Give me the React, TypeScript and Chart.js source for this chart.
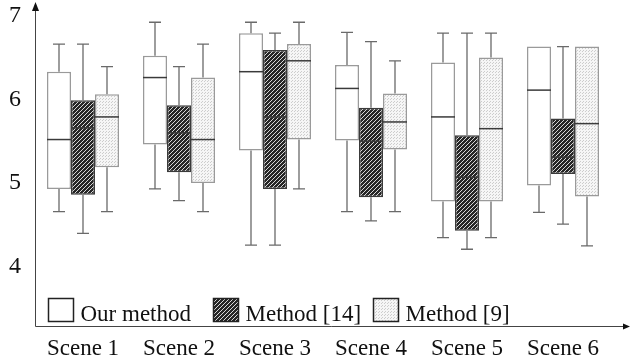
import React, { useEffect, useRef } from 'react';
import { Chart, registerables } from 'chart.js';

Chart.register(...registerables);

const scenes = ['Scene 1', 'Scene 2', 'Scene 3', 'Scene 4', 'Scene 5', 'Scene 6'];
const methodLabels = ['Our method', 'Method [14]', 'Method [9]'];
const yTicks = [4, 5, 6, 7];

// each entry: [min, q1, median, q3, max]
const ourMethod = [
  [4.66, 4.93, 5.52, 6.33, 6.66],
  [4.93, 5.46, 6.26, 6.52, 6.92],
  [4.26, 5.39, 6.33, 6.79, 6.92],
  [4.66, 5.51, 6.13, 6.41, 6.8],
  [4.35, 4.78, 5.79, 6.44, 6.79],
  [4.65, 4.97, 6.11, 6.63, 6.63],
];
const method14 = [
  [4.4, 4.86, 5.66, 5.99, 6.66],
  [4.79, 5.13, 5.6, 5.93, 6.39],
  [4.26, 4.93, 5.79, 6.59, 6.79],
  [4.55, 4.83, 5.5, 5.9, 6.69],
  [4.21, 4.43, 5.07, 5.57, 6.79],
  [4.51, 5.11, 5.31, 5.77, 6.63],
];
const method9 = [
  [4.66, 5.19, 5.79, 6.06, 6.39],
  [4.66, 5.0, 5.52, 6.26, 6.66],
  [4.93, 5.52, 6.46, 6.66, 6.92],
  [4.66, 5.4, 5.73, 6.07, 6.46],
  [4.35, 4.78, 5.65, 6.5, 6.79],
  [4.25, 4.84, 5.71, 6.63, 6.63],
];

const FONT = '"Liberation Serif", "Times New Roman", serif';

function makeHatch(): CanvasPattern | string {
  const c = document.createElement('canvas');
  c.width = 4;
  c.height = 4;
  const g = c.getContext('2d');
  if (!g) return '#444';
  g.fillStyle = '#262626';
  g.fillRect(0, 0, 4, 4);
  g.strokeStyle = '#d8d8d8';
  g.lineWidth = 1;
  g.beginPath();
  g.moveTo(0, 4);
  g.lineTo(4, 0);
  g.moveTo(-1, 1);
  g.lineTo(1, -1);
  g.moveTo(3, 5);
  g.lineTo(5, 3);
  g.stroke();
  return g.createPattern(c, 'repeat') || '#444';
}

function makeDots(): CanvasPattern | string {
  const c = document.createElement('canvas');
  c.width = 3;
  c.height = 3;
  const g = c.getContext('2d');
  if (!g) return '#eee';
  g.fillStyle = '#f6f6f6';
  g.fillRect(0, 0, 3, 3);
  g.fillStyle = '#cdcdcd';
  g.fillRect(0, 0, 1, 1);
  g.fillRect(1, 2, 1, 1);
  return g.createPattern(c, 'repeat') || '#eee';
}

const whiskerPlugin = {
  id: 'whiskers',
  afterDatasetsDraw(chart: any) {
    const ctx = chart.ctx;
    const ys = chart.scales.y;
    chart.data.datasets.forEach((ds: any, di: number) => {
      const meta = chart.getDatasetMeta(di);
      meta.data.forEach((bar: any, i: number) => {
        const [mn, q1, med, q3, mx] = ds.stats[i];
        const x = bar.x;
        const w = bar.width;
        const cap = w / 4;
        ctx.save();
        ctx.strokeStyle = '#6a6a6a';
        ctx.lineWidth = 1.3;
        ctx.beginPath();
        if (mx > q3) {
          ctx.moveTo(x, ys.getPixelForValue(q3));
          ctx.lineTo(x, ys.getPixelForValue(mx));
          ctx.moveTo(x - cap, ys.getPixelForValue(mx));
          ctx.lineTo(x + cap, ys.getPixelForValue(mx));
        }
        if (mn < q1) {
          ctx.moveTo(x, ys.getPixelForValue(q1));
          ctx.lineTo(x, ys.getPixelForValue(mn));
          ctx.moveTo(x - cap, ys.getPixelForValue(mn));
          ctx.lineTo(x + cap, ys.getPixelForValue(mn));
        }
        ctx.stroke();
        ctx.strokeStyle = '#3a3a3a';
        ctx.lineWidth = 1.5;
        ctx.beginPath();
        ctx.moveTo(x - w / 2, ys.getPixelForValue(med));
        ctx.lineTo(x + w / 2, ys.getPixelForValue(med));
        ctx.stroke();
        ctx.restore();
      });
    });
  },
};

const axesPlugin = {
  id: 'arrowAxes',
  afterDraw(chart: any) {
    const { ctx, chartArea } = chart;
    const l = Math.round(chartArea.left) + 0.5;
    const b = Math.round(chartArea.bottom) + 0.5;
    const w = chart.width;
    ctx.save();
    ctx.strokeStyle = '#444';
    ctx.fillStyle = '#111';
    ctx.lineWidth = 1;
    ctx.beginPath();
    ctx.moveTo(l, b);
    ctx.lineTo(l, 6);
    ctx.moveTo(l, b);
    ctx.lineTo(w - 4, b);
    ctx.stroke();
    ctx.beginPath();
    ctx.moveTo(l, 2);
    ctx.lineTo(l - 3.5, 11);
    ctx.lineTo(l + 3.5, 11);
    ctx.closePath();
    ctx.fill();
    ctx.beginPath();
    ctx.moveTo(w - 1, b);
    ctx.lineTo(w - 8, b - 3);
    ctx.lineTo(w - 8, b + 3);
    ctx.closePath();
    ctx.fill();
    ctx.restore();
  },
};

const legendPlugin = {
  id: 'innerLegend',
  afterDraw(chart: any) {
    const { ctx, chartArea } = chart;
    const starts = [13, 178, 338];
    const boxTop = chartArea.bottom - 28;
    ctx.save();
    chart.data.datasets.forEach((ds: any, i: number) => {
      const x = Math.round(chartArea.left + starts[i]) + 0.5;
      const y = Math.round(boxTop) + 0.5;
      ctx.fillStyle = ds.backgroundColor;
      ctx.fillRect(x, y, 25, 23);
      ctx.strokeStyle = '#222';
      ctx.lineWidth = 1.5;
      ctx.strokeRect(x, y, 25, 23);
      ctx.fillStyle = '#111';
      ctx.font = `23px ${FONT}`;
      ctx.textBaseline = 'alphabetic';
      ctx.textAlign = 'left';
      ctx.fillText(ds.label, x + 32, y + 22);
    });
    ctx.restore();
  },
};

export default function App() {
  const ref = useRef<HTMLCanvasElement | null>(null);

  useEffect(() => {
    if (!ref.current) return;
    const hatch = makeHatch();
    const dots = makeDots();
    const series = [ourMethod, method14, method9];
    const fills: any[] = ['#ffffff', hatch, dots];
    const borders = ['#9a9a9a', '#3a3a3a', '#9a9a9a'];
    const chart = new Chart(ref.current, {
      type: 'bar',
      data: {
        labels: scenes,
        datasets: series.map((s, i) => ({
          label: methodLabels[i],
          data: s.map((r) => [r[1], r[3]]),
          stats: s,
          backgroundColor: fills[i],
          borderColor: borders[i],
          borderWidth: 1.5,
          borderSkipped: false,
          barPercentage: 1,
          categoryPercentage: 0.75,
        })) as any,
      },
      options: {
        animation: false,
        responsive: true,
        maintainAspectRatio: false,
        layout: { padding: { top: 3, right: 20, left: 0, bottom: 0 } },
        plugins: { legend: { display: false }, tooltip: { enabled: false } },
        scales: {
          x: {
            type: 'category',
            offset: true,
            grid: { display: false, drawTicks: false },
            border: { display: false },
            ticks: { color: '#111', font: { family: FONT, size: 23 }, padding: 10 },
            afterFit: (s: any) => {
              s.height = 38.5;
              s.paddingLeft = 0;
              s.paddingRight = 0;
            },
          },
          y: {
            min: 3.3,
            max: 7.15,
            grid: { display: false, drawTicks: false },
            border: { display: false },
            afterBuildTicks: (s: any) => {
              s.ticks = yTicks.map((v) => ({ value: v }));
            },
            ticks: { color: '#111', font: { family: FONT, size: 24 }, padding: 14 },
            afterFit: (s: any) => {
              s.width = 35;
              s.paddingTop = 0;
              s.paddingBottom = 0;
            },
          },
        },
      },
      plugins: [whiskerPlugin, axesPlugin, legendPlugin],
    });
    return () => chart.destroy();
  }, []);

  return (
    <div style={{ position: 'absolute', left: 0, top: 0, width: 631, height: 364, background: '#fff' }}>
      <canvas ref={ref} />
    </div>
  );
}
